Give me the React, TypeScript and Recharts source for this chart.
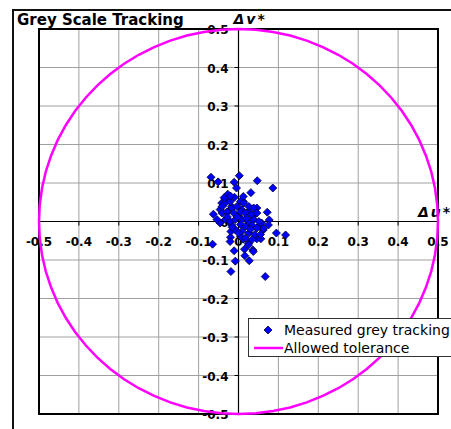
import {
  ScatterChart,
  Scatter,
  XAxis,
  YAxis,
  CartesianGrid,
  ReferenceLine,
  ReferenceDot,
  ReferenceArea,
} from "recharts"

const tickValues = [-0.5, -0.4, -0.3, -0.2, -0.1, 0, 0.1, 0.2, 0.3, 0.4, 0.5]
const tickLabels = ["-0.5", "-0.4", "-0.3", "-0.2", "-0.1", "0", "0.1", "0.2", "0.3", "0.4", "0.5"]

const seriesNames = ["Measured grey tracking", "Allowed tolerance"]

// measured Δu* / Δv* per grey step
const measuredU = [
  -0.069, -0.051, 0.002, -0.011, 0.047, 0.086, 0.031, -0.027, -0.063, 0.072,
  0.077, 0.095, 0.118, -0.065, -0.02, -0.021, -0.011, 0.012, 0.025, 0.036,
  0.015, 0.016, 0.027, -0.008, -0.019, 0.067, 0.046, 0.056, 0.062, 0.054,
  -0.046, -0.03, -0.042, -0.017, -0.026, -0.005, 0.012, 0.046, 0.025, 0.008,
  0.037, 0.058, 0.0, -0.019, -0.017, 0.075, 0.062, 0.037, 0.025, -0.01,
  -0.033, -0.021, 0.005, 0.013, -0.041, -0.016, -0.004, 0.026, 0.038, 0.046,
  -0.041, -0.029, -0.012, 0.005, 0.017, 0.032, -0.033, -0.021, -0.008, 0.009,
  0.024, 0.038, 0.051, 0.005, 0.017, 0.034, 0.046, -0.008, 0.009, 0.026,
  0.041, 0.055, 0.005, 0.017, 0.034, -0.016, -0.046, -0.054, -0.003, 0.02,
  -0.028, 0.03, 0.0, 0.012, -0.036, -0.02,
]
const measuredV = [
  0.115, 0.103, 0.119, 0.102, 0.106, 0.087, 0.075, 0.071, 0.019, 0.024,
  0.004, -0.03, -0.035, -0.059, -0.041, -0.052, -0.076, -0.046, -0.057, -0.074,
  -0.072, -0.089, -0.102, -0.103, -0.13, -0.143, -0.045, -0.045, -0.022, -0.009,
  0.031, 0.057, 0.048, 0.039, 0.026, 0.087, 0.052, 0.035, 0.026, 0.031,
  0.014, -0.004, 0.014, -0.026, -0.009, -0.009, -0.018, -0.078, -0.061, 0.063,
  0.048, 0.052, 0.052, 0.048, 0.039, 0.035, 0.039, 0.039, 0.035, 0.022,
  0.022, 0.025, 0.022, 0.025, 0.022, 0.018, 0.005, 0.0, 0.005, 0.005,
  0.0, 0.005, 0.0, -0.008, -0.013, -0.01, -0.017, -0.021, -0.026, -0.03,
  -0.034, -0.034, -0.039, -0.043, -0.047, -0.015, -0.004, 0.005, 0.012, 0.008,
  0.012, -0.02, -0.03, 0.065, 0.062, 0.066,
]

// tolerance circle, r = 0.5, every 5 degrees
const toleranceU = [
  0.5, 0.4981, 0.4924, 0.483, 0.4698, 0.4532, 0.433, 0.4096, 0.383, 0.3536,
  0.3214, 0.2868, 0.25, 0.2113, 0.171, 0.1294, 0.0868, 0.0436, 0,
  -0.0436, -0.0868, -0.1294, -0.171, -0.2113, -0.25, -0.2868, -0.3214, -0.3536,
  -0.383, -0.4096, -0.433, -0.4532, -0.4698, -0.483, -0.4924, -0.4981, -0.5,
  -0.4981, -0.4924, -0.483, -0.4698, -0.4532, -0.433, -0.4096, -0.383, -0.3536,
  -0.3214, -0.2868, -0.25, -0.2113, -0.171, -0.1294, -0.0868, -0.0436, 0,
  0.0436, 0.0868, 0.1294, 0.171, 0.2113, 0.25, 0.2868, 0.3214, 0.3536,
  0.383, 0.4096, 0.433, 0.4532, 0.4698, 0.483, 0.4924, 0.4981, 0.5,
]
const toleranceV = [
  0, 0.0436, 0.0868, 0.1294, 0.171, 0.2113, 0.25, 0.2868, 0.3214, 0.3536,
  0.383, 0.4096, 0.433, 0.4532, 0.4698, 0.483, 0.4924, 0.4981, 0.5,
  0.4981, 0.4924, 0.483, 0.4698, 0.4532, 0.433, 0.4096, 0.383, 0.3536,
  0.3214, 0.2868, 0.25, 0.2113, 0.171, 0.1294, 0.0868, 0.0436, 0,
  -0.0436, -0.0868, -0.1294, -0.171, -0.2113, -0.25, -0.2868, -0.3214, -0.3536,
  -0.383, -0.4096, -0.433, -0.4532, -0.4698, -0.483, -0.4924, -0.4981, -0.5,
  -0.4981, -0.4924, -0.483, -0.4698, -0.4532, -0.433, -0.4096, -0.383, -0.3536,
  -0.3214, -0.2868, -0.25, -0.2113, -0.171, -0.1294, -0.0868, -0.0436, 0,
]

const measured = measuredU.map((u, i) => ({ u, v: measuredV[i] }))
const tolerance = toleranceU.map((u, i) => ({ u, v: toleranceV[i] }))

const FONT = "'DejaVu Sans', Verdana, sans-serif"
const MAGENTA = "#ff00ff"
const BLUE = "#0000ff"

function Diamond(props: any) {
  const { cx, cy } = props
  const r = 4
  return (
    <polygon
      points={`${cx},${cy - r} ${cx + r},${cy} ${cx},${cy + r} ${cx - r},${cy}`}
      fill={BLUE}
      stroke="#000033"
      strokeWidth={0.8}
    />
  )
}

function xTick(label: string) {
  return (p: any) => (
    <g>
      <line x1={p.cx} y1={p.cy} x2={p.cx} y2={p.cy + 4} stroke="#000" />
      <text
        x={p.cx}
        y={p.cy + 20}
        textAnchor="middle"
        dominantBaseline="central"
        fontFamily={FONT}
        fontWeight="bold"
        fontSize={12}
        fill="#000"
      >
        {label}
      </text>
    </g>
  )
}

function yTick(label: string) {
  return (p: any) => (
    <g>
      <line x1={p.cx - 4} y1={p.cy} x2={p.cx} y2={p.cy} stroke="#000" />
      <text
        x={p.cx - 10}
        y={p.cy + 1}
        textAnchor="end"
        dominantBaseline="central"
        fontFamily={FONT}
        fontWeight="bold"
        fontSize={12}
        fill="#000"
      >
        {label}
      </text>
    </g>
  )
}

function axisTitle(text: string, dx: number, dy: number) {
  return (p: any) => (
    <text
      x={p.cx + dx}
      y={p.cy + dy}
      dominantBaseline="central"
      fontFamily={FONT}
      fontWeight="bold"
      fontStyle="italic"
      fontSize={14}
      letterSpacing={2}
      fill="#000"
    >
      {text}
    </text>
  )
}

export default function App() {
  return (
    <div
      style={{
        position: "absolute",
        left: 0,
        top: 0,
        width: 451,
        height: 429,
        overflow: "hidden",
        background: "#fff",
        fontFamily: FONT,
      }}
    >
      <div
        style={{
          position: "absolute",
          left: 12,
          top: 9,
          width: 480,
          height: 460,
          border: "2px solid #111",
        }}
      />
      <div
        style={{
          position: "absolute",
          left: 17,
          top: 12,
          fontSize: 15,
          lineHeight: "16px",
          fontWeight: "bold",
          whiteSpace: "nowrap",
        }}
      >
        Grey Scale Tracking
      </div>

      <div style={{ position: "absolute", left: 0, top: 0 }}>
        <ScatterChart width={451} height={429} margin={{ top: 29, right: 13, bottom: 15, left: 39 }}>
          <XAxis type="number" dataKey="u" domain={[-0.5, 0.5]} ticks={tickValues} hide />
          <YAxis type="number" dataKey="v" domain={[-0.5, 0.5]} ticks={tickValues} hide />
          <CartesianGrid stroke="#a0a0a0" strokeWidth={1} />
          <ReferenceLine x={0} stroke="#000" strokeWidth={1.2} />
          <ReferenceLine y={0} stroke="#000" strokeWidth={1.2} />
          {tickValues.map((t, i) => (
            <ReferenceDot key={"x" + i} x={t} y={0} r={0} shape={xTick(tickLabels[i])} />
          ))}
          {tickValues.map((t, i) => (
            <ReferenceDot key={"y" + i} x={0} y={t} r={0} shape={yTick(tickLabels[i])} />
          ))}
          <ReferenceDot x={0} y={0.5} r={0} shape={axisTitle("Δv*", -5, -10)} />
          <ReferenceDot x={0.5} y={0} r={0} shape={axisTitle("Δu*", -20, -10)} />
          <ReferenceArea x1={-0.5} x2={0.5} y1={-0.5} y2={0.5} fill="none" stroke="#000" strokeWidth={2} />
          <Scatter
            name={seriesNames[1]}
            data={tolerance}
            line={{ stroke: MAGENTA, strokeWidth: 2.5 }}
            lineType="joint"
            shape={() => <g />}
            isAnimationActive={false}
          />
          <Scatter name={seriesNames[0]} data={measured} shape={Diamond} isAnimationActive={false} />
        </ScatterChart>
      </div>

      <div
        style={{
          position: "absolute",
          left: 248,
          top: 318,
          width: 230,
          height: 37,
          border: "1px solid #333",
          background: "#fff",
          fontSize: 14,
          color: "#000",
        }}
      >
        <svg width={40} height={37} style={{ position: "absolute", left: 0, top: 0 }}>
          <polygon points="19,7 23,11 19,15 15,11" fill={BLUE} stroke="#000033" strokeWidth={0.8} />
          <line x1={5} y1={29} x2={34} y2={29} stroke={MAGENTA} strokeWidth={2.5} />
        </svg>
        <div style={{ position: "absolute", left: 35, top: 2, lineHeight: "18px", whiteSpace: "nowrap" }}>
          {seriesNames[0]}
        </div>
        <div style={{ position: "absolute", left: 35, top: 20, lineHeight: "18px", whiteSpace: "nowrap" }}>
          {seriesNames[1]}
        </div>
      </div>
    </div>
  )
}
